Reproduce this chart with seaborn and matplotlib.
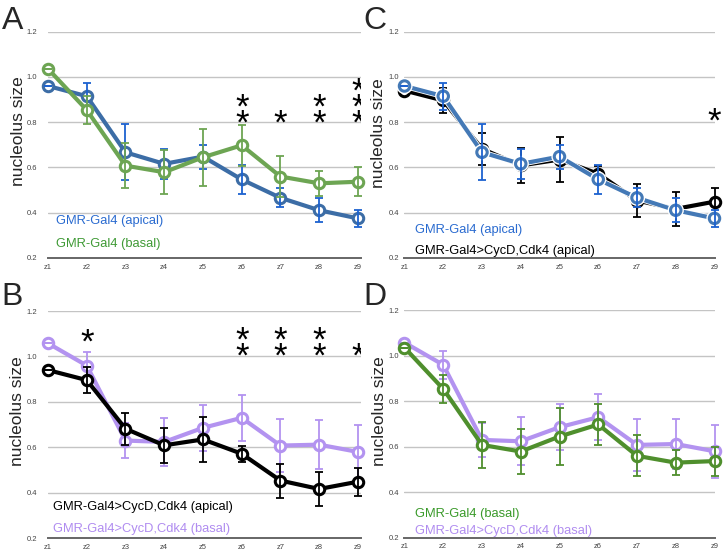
import seaborn as sns
import pandas as pd
import numpy as np
import matplotlib.pyplot as plt
import matplotlib.patheffects as pe
from matplotlib.transforms import offset_copy

# Data
z_labels = ['z1', 'z2', 'z3', 'z4', 'z5', 'z6', 'z7', 'z8', 'z9']
z_pos = list(range(1, 10))
y_ticks = [0.2, 0.4, 0.6, 0.8, 1.0, 1.2]

apical_mean = [0.96, 0.915, 0.667, 0.616, 0.648, 0.547, 0.466, 0.411, 0.375]
apical_err = [0.0, 0.06, 0.124, 0.066, 0.053, 0.064, 0.042, 0.052, 0.036]
basal_mean = [1.036, 0.854, 0.608, 0.579, 0.645, 0.698, 0.56, 0.53, 0.537]
basal_err = [0.0, 0.063, 0.1, 0.098, 0.127, 0.09, 0.09, 0.055, 0.064]
cyc_apical_mean = [0.94, 0.896, 0.682, 0.609, 0.635, 0.572, 0.454, 0.417, 0.449]
cyc_apical_err = [0.0, 0.057, 0.07, 0.077, 0.1, 0.036, 0.075, 0.075, 0.062]
cyc_basal_mean = [1.058, 0.96, 0.63, 0.624, 0.686, 0.73, 0.608, 0.612, 0.58]
cyc_basal_err = [0.0, 0.06, 0.076, 0.105, 0.1, 0.1, 0.116, 0.109, 0.117]

# significance stars: z position -> (number of stars, height of lowest star)
stars_A = {6: (2, 0.823), 7: (1, 0.823), 8: (2, 0.823), 9: (3, 0.823)}
stars_B = {2: (1, 1.09), 6: (2, 1.03), 7: (2, 1.03), 8: (2, 1.03), 9: (1, 1.03)}
stars_C = {9: (1, 0.832)}
stars_D = {}

series = {
    'GMR-Gal4 (apical)': (apical_mean, apical_err),
    'GMR-Gal4 (basal)': (basal_mean, basal_err),
    'GMR-Gal4>CycD,Cdk4 (apical)': (cyc_apical_mean, cyc_apical_err),
    'GMR-Gal4>CycD,Cdk4 (basal)': (cyc_basal_mean, cyc_basal_err),
}
rows = []
for name, (m, e) in series.items():
    for z, mv, ev in zip(z_pos, m, e):
        rows.append({'series': name, 'z': z, 'mean': mv, 'err': ev})
df = pd.DataFrame(rows)

sns.set_style('white')
plt.rcParams['font.family'] = ['Liberation Sans', 'DejaVu Sans']

W, H = 724, 553
fig = plt.figure(figsize=(W / 100, H / 100), dpi=100)


def rect(x0, x1, ytop, ybot):
    return [x0 / W, 1 - ybot / H, (x1 - x0) / W, (ybot - ytop) / H]


# (line colour, errorbar colour, legend text colour)
styles = {
    'A': {'GMR-Gal4 (apical)': ('#3c6da6', '#1d62d0', '#2a6bd0'),
          'GMR-Gal4 (basal)': ('#6da553', '#6da553', '#3f9a35')},
    'B': {'GMR-Gal4>CycD,Cdk4 (basal)': ('#b393f0', '#b393f0', '#b08cf0'),
          'GMR-Gal4>CycD,Cdk4 (apical)': ('#000000', '#000000', '#000000')},
    'C': {'GMR-Gal4>CycD,Cdk4 (apical)': ('#000000', '#000000', '#000000'),
          'GMR-Gal4 (apical)': ('#4479b6', '#1d62d0', '#2a6bd0')},
    'D': {'GMR-Gal4>CycD,Cdk4 (basal)': ('#b393f0', '#b393f0', '#b08cf0'),
          'GMR-Gal4 (basal)': ('#4f8f2d', '#4f8f2d', '#3a9a2a')},
}
legend_order = {
    'A': ['GMR-Gal4 (apical)', 'GMR-Gal4 (basal)'],
    'B': ['GMR-Gal4>CycD,Cdk4 (apical)', 'GMR-Gal4>CycD,Cdk4 (basal)'],
    'C': ['GMR-Gal4 (apical)', 'GMR-Gal4>CycD,Cdk4 (apical)'],
    'D': ['GMR-Gal4 (basal)', 'GMR-Gal4>CycD,Cdk4 (basal)'],
}
panels = {
    'A': dict(rect=rect(48, 361, 31.7, 258), xmax=9.08, stars=stars_A, pad=8,
              letter=(2, 21), ylab=(19, 131), leg=(56, [224, 247.5])),
    'C': dict(rect=rect(404.5, 714.5, 31.7, 258), xmax=9.0, stars=stars_C, pad=4,
              letter=(363, 21), ylab=(378, 133), leg=(415, [233.5, 254])),
    'B': dict(rect=rect(48, 361, 311, 538.3), xmax=9.08, stars=stars_B, pad=8,
              letter=(1, 297), ylab=(18, 411), leg=(53, [510, 532])),
    'D': dict(rect=rect(404.5, 714.5, 310.3, 537.7), xmax=9.0, stars=stars_D, pad=4,
              letter=(363, 297), ylab=(379, 411), leg=(415, [517.5, 534])),
}

for key, p in panels.items():
    ax = fig.add_axes(p['rect'])
    # horizontal guide lines
    for t in y_ticks[1:]:
        ax.axhline(t, color='#c4c4c4', lw=1, zorder=0.5)

    for i, (name, (lc, ec, tc)) in enumerate(styles[key].items()):
        d = df[df['series'] == name]
        halo = key == 'C' and name == 'GMR-Gal4 (apical)'
        sns.lineplot(data=d, x='z', y='mean', ax=ax, color=lc, lw=3,
                     marker='o', markersize=7.5, markerfacecolor='white',
                     markeredgecolor=lc, markeredgewidth=2.2,
                     clip_on=False, zorder=3 + i * 2, legend=False,
                     path_effects=[pe.Stroke(linewidth=4.2, foreground='white'), pe.Normal()] if halo else None)
        eb = ax.errorbar(d['z'], d['mean'], yerr=d['err'], fmt='none', ecolor=ec,
                         elinewidth=1.3, capsize=3.2, capthick=1.3, zorder=4 + i * 2)
        for art in eb.lines[1] + eb.lines[2]:
            art.set_clip_on(False)

    ax.set_xlim(1, p['xmax'])
    ax.set_ylim(0.2, 1.2)
    ax.set_yticks(y_ticks)
    ax.set_yticklabels([f'{t:.1f}' for t in y_ticks])
    ax.set_xticks(z_pos)
    ax.set_xticklabels(z_labels)
    ax.tick_params(axis='y', length=0, pad=p['pad'], labelsize=5.5, labelcolor='#444444')
    ax.tick_params(axis='x', length=0, pad=4, labelsize=5.5, labelcolor='#444444')
    for s in ['left', 'right', 'top']:
        ax.spines[s].set_visible(False)
    ax.spines['bottom'].set_color('#666666')
    ax.spines['bottom'].set_linewidth(1.4)
    ax.set_xlabel('')
    ax.set_ylabel('')

    star_tr = offset_copy(ax.transData, fig=fig, y=-17, units='dots')
    for z, (n, base) in p['stars'].items():
        ax.text(z, base, '\n'.join(['*'] * n), ha='center', va='baseline',
                fontsize=25, linespacing=0.35, color='black',
                clip_on=key in ('A', 'B'), zorder=10, transform=star_tr)

    lx, ly = p['letter']
    fig.text(lx / W, 1 - ly / H, key, fontsize=23, ha='left', va='center')
    yx, yy = p['ylab']
    fig.text(yx / W, 1 - yy / H, 'nucleolus size', fontsize=12.5, rotation=90,
             ha='center', va='center')
    gx, gys = p['leg']
    for name, gy in zip(legend_order[key], gys):
        fig.text(gx / W, 1 - gy / H, name, fontsize=9.3,
                 color=styles[key][name][2], ha='left', va='baseline')

plt.savefig('out.png', dpi=100)
